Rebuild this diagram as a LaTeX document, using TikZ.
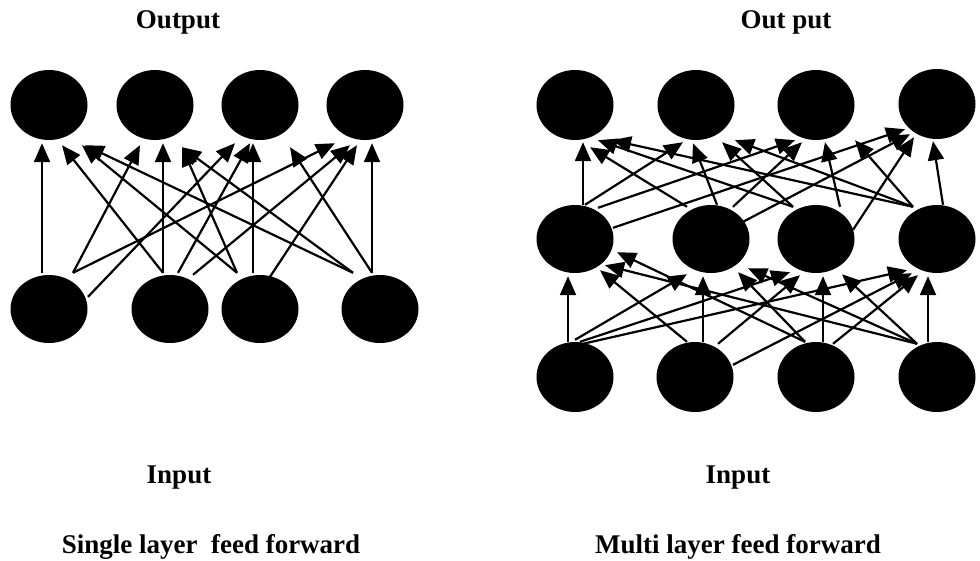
\documentclass[tikz,border=0pt]{standalone}
\usepackage{fontspec}
\setmainfont{Liberation Serif}
\usetikzlibrary{shapes.geometric,arrows.meta}
\begin{document}
\begin{tikzpicture}[x=1pt,y=-1pt,
  neuron/.style={ellipse, fill=black, inner sep=0pt, minimum width=77pt, minimum height=70pt},
  link/.style={line width=2.2pt, -{Triangle[length=19pt,width=16pt]}},
  caption/.style={font=\fontsize{27}{32}\selectfont\bfseries, anchor=base, inner sep=0pt}]
\useasboundingbox (0,0) rectangle (980,560);

% ---------- single layer network ----------
\node[neuron] (o1) at (49,105) {};
\node[neuron] (o2) at (155,105) {};
\node[neuron] (o3) at (260,105) {};
\node[neuron] (o4) at (365,105) {};
\node[neuron, minimum height=68pt] (i1) at (49,309) {};
\node[neuron, minimum height=68pt] (i2) at (170,309) {};
\node[neuron, minimum height=68pt] (i3) at (260,309) {};
\node[neuron, minimum height=68pt] (i4) at (380,309) {};

\foreach \s/\sx/\sy/\d/\ex/\ey in {
  i1/-7/2/o1/-7/-3, i1/24/2/o2/-15/-5, i1/39/-22/o3/-25/-3, i1/24/2/o4/-30/-3,
  i2/-7/2/o1/13/-5, i2/-7/2/o2/8/-3, i2/8/2/o3/-10/-3, i2/23/0/o4/-15/-5,
  i3/-23/2/o1/33/-5, i3/-23/2/o2/27/-7, i3/-7/2/o3/-7/-3, i3/10/-2/o4/-8/-5,
  i4/-27/2/o1/36/-5, i4/-27/2/o2/27/-7, i4/-8/2/o3/30/-7, i4/-8/2/o4/7/-3}
  \draw[link] ([xshift=\sx pt,yshift=\sy pt]\s.north) -- ([xshift=\ex pt,yshift=\ey pt]\d.south);

\node[caption] (outL) at (178,28) {Output};
\node[caption] (inL) at (179,483) {Input};
\node[caption] (capL) at (211,553) {Single layer\ \ feed forward};

% ---------- multi layer network ----------
\node[neuron] (ro1) at (575,105) {};
\node[neuron] (ro2) at (696,105) {};
\node[neuron] (ro3) at (816,105) {};
\node[neuron] (ro4) at (937,104) {};
\node[neuron, minimum height=68pt] (rh1) at (575,239) {};
\node[neuron, minimum height=68pt] (rh2) at (711,239) {};
\node[neuron, minimum height=68pt] (rh3) at (816,239) {};
\node[neuron, minimum height=68pt] (rh4) at (937,239) {};
\node[neuron] (ri1) at (575,377) {};
\node[neuron] (ri2) at (695,377) {};
\node[neuron] (ri3) at (816,377) {};
\node[neuron] (ri4) at (937,377) {};

% hidden -> output
\foreach \s/\sx/\sy/\d/\ex/\ey in {
  rh1/8/0/ro1/8/-2, rh1/10/0/ro2/-13/-2, rh1/23/-3/ro3/-21/0, rh1/38/-23/ro4/-32/10,
  rh2/-24/-2/ro1/15/-7, rh2/6/0/ro2/-3/-3, rh2/22/-2/ro3/-14/-2, rh2/32/-17/ro4/-27/5,
  rh3/-23/-2/ro1/23/0, rh3/-23/-2/ro2/26/-2, rh3/24/-2/ro3/9/-2, rh3/37/-25/ro4/-23/2,
  rh4/-24/-2/ro1/37/0, rh4/-24/-2/ro2/39/0, rh4/-24/-2/ro3/39/0, rh4/6/0/ro4/-4/-2}
  \draw[link] ([xshift=\sx pt,yshift=\sy pt]\s.north) -- ([xshift=\ex pt,yshift=\ey pt]\d.south);

% input -> hidden
\foreach \s/\sx/\sy/\d/\ex/\ey in {
  ri1/-7/0/rh1/-7/-3, ri1/0/2/rh2/-24/-1, ri1/5/0/rh3/-26/1, ri1/8/-2/rh4/-30/3,
  ri2/-8/0/rh1/25/3, ri2/8/0/rh2/-8/-3, ri2/23/-2/rh3/-16/-2, ri2/38/-23/rh4/-25/0,
  ri3/-11/0/rh1/42/21, ri3/-11/0/rh2/27/1, ri3/7/0/rh3/7/-3, ri3/17/-2/rh4/-19/-2,
  ri4/-20/-2/rh1/30/8, ri4/-20/-2/rh2/37/5, ri4/-20/-2/rh3/26/-1, ri4/-9/0/rh4/-9/-3}
  \draw[link] ([xshift=\sx pt,yshift=\sy pt]\s.north) -- ([xshift=\ex pt,yshift=\ey pt]\d.south);

\node[caption] (outR) at (786,28) {Out put};
\node[caption] (inR) at (738,483) {Input};
\node[caption] (capR) at (738,553) {Multi layer feed forward};
\end{tikzpicture}
\end{document}
